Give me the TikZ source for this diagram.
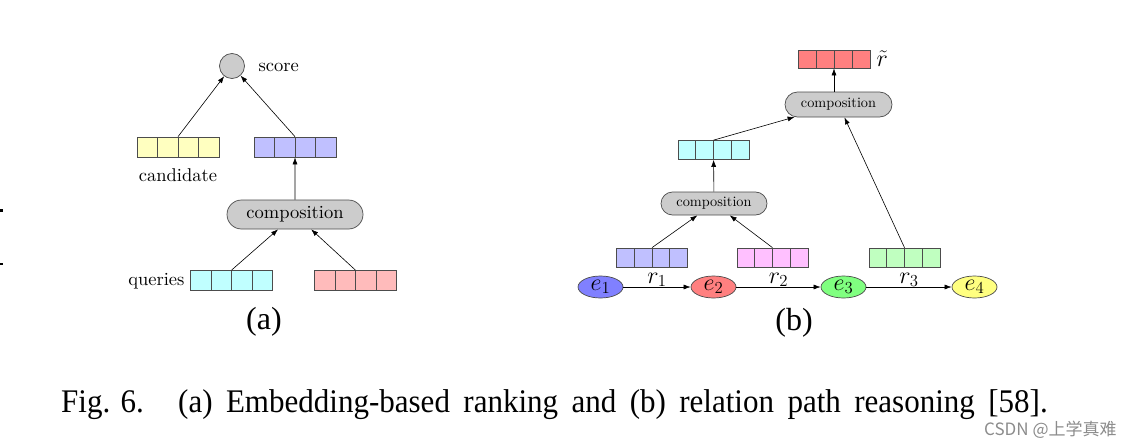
\documentclass[tikz,border=0pt]{standalone}
\usepackage{fix-cm}
\usepackage{amsmath}
\usepackage{fontspec}
\usepackage{tikz}
\usetikzlibrary{arrows.meta, calc, shapes.geometric, shapes.misc}
\setmainfont{lmroman10-regular}[Extension=.otf]
\newfontfamily\capfont{Liberation Serif}
\newfontfamily\cjkfont{Noto Sans CJK SC}
\definecolor{vyellow}{RGB}{255,255,192}
\definecolor{vblue}{RGB}{192,192,255}
\definecolor{vcyan}{RGB}{192,255,255}
\definecolor{vpink}{RGB}{255,187,187}
\definecolor{vred}{RGB}{255,128,128}
\definecolor{vmagenta}{RGB}{255,192,255}
\definecolor{vgreen}{RGB}{192,255,192}
\definecolor{eblue}{RGB}{128,128,255}
\definecolor{ered}{RGB}{255,128,128}
\definecolor{egreen}{RGB}{128,255,128}
\definecolor{eyellow}{RGB}{255,255,128}
\definecolor{compgray}{RGB}{204,204,204}

\tikzset{
  vecbox/.style={draw=black!70, fill=#1, line width=0.7pt, minimum width=82, minimum height=20, inner sep=0pt,
    path picture={\foreach \k in {0.25,0.5,0.75}
      \draw[black!70, line width=0.7pt] ($(path picture bounding box.south west)!\k!(path picture bounding box.south east)$)
        -- ($(path picture bounding box.north west)!\k!(path picture bounding box.north east)$);}},
  smallvec/.style={vecbox=#1, minimum width=71, minimum height=19},
  compbox/.style={rounded rectangle, draw=black!70, fill=compgray, line width=0.7pt, inner sep=0pt},
  entity/.style={ellipse, draw=black!70, fill=#1, line width=0.7pt, minimum width=45, minimum height=22, inner sep=0pt,
    font=\fontsize{24}{25}\selectfont},
  arr/.style={-{Latex[length=7pt,width=5pt]}, line width=0.6pt},
  labela/.style={font=\fontsize{18.5}{20}\selectfont},
  rlabel/.style={midway, anchor=base, yshift=4pt, font=\fontsize{24}{25}\selectfont},
  sublabel/.style={font=\capfont\fontsize{32}{34}\selectfont}
}

\begin{document}
\begin{tikzpicture}[x=1pt, y=1pt]
\useasboundingbox (0,0) rectangle (1136,-447);
\fill[white] (0,0) rectangle (1136,-447);

% page edge marks
\fill (0,-209) rectangle (2.5,-212);
\fill (0,-263) rectangle (2.5,-265);

% (a) embedding-based ranking
\node[circle, draw=black!70, fill=compgray, line width=0.7pt, minimum size=25] (score) at (232,-66) {};
\node[labela, anchor=west] (scoretxt) at (255,-67) {score};
\node[vecbox=vyellow] (cand) at (178,-147) {};
\node[labela] (candtxt) at (178,-175) {candidate};
\node[vecbox=vblue] (qemb) at (295,-147) {};
\node[compbox, labela, minimum width=136, minimum height=29] (compa) at (295,-214.5) {composition};
\node[vecbox=vcyan] (query) at (231.5,-280.5) {};
\node[labela, anchor=east] (querytxt) at (188,-281) {queries};
\node[vecbox=vpink] (rel) at (355.5,-280.5) {};

\draw[arr] (cand.north) -- (score);
\draw[arr] (qemb.north) -- (score);
\draw[arr] (compa) -- (qemb);
\draw[arr] (query.north) -- (compa);
\draw[arr] (rel.north) -- (compa);

\node[sublabel] (suba) at (264,-322) {(a)};

% (b) relation path reasoning
\node[smallvec=vred, minimum width=72, minimum height=18] (rpath) at (834,-59) {};
\node[font=\fontsize{24}{25}\selectfont, anchor=west] (rtilde) at (873,-59) {$\tilde{r}$};
\node[compbox, font=\fontsize{14.3}{16}\selectfont, minimum width=107, minimum height=25] (comptop) at (838.5,-104.5) {composition};
\node[smallvec=vcyan] (r12) at (713.5,-150) {};
\node[compbox, font=\fontsize{14.3}{16}\selectfont, minimum width=106, minimum height=23] (compbot) at (714,-203.5) {composition};
\node[smallvec=vblue] (r1) at (652,-257.5) {};
\node[smallvec=vmagenta] (r2) at (772.5,-257.5) {};
\node[smallvec=vgreen] (r3) at (904.5,-257.5) {};

\node[entity=eblue] (e1) at (600.5,-287) {$e_1$};
\node[entity=ered] (e2) at (713.5,-287) {$e_2$};
\node[entity=egreen] (e3) at (843.5,-287) {$e_3$};
\node[entity=eyellow] (e4) at (974.5,-287) {$e_4$};

\draw[arr] (e1) -- node[rlabel] (lr1) {$r_1$} (e2);
\draw[arr] (e2) -- node[rlabel] (lr2) {$r_2$} (e3);
\draw[arr] (e3) -- node[rlabel] (lr3) {$r_3$} (e4);

\draw[arr] (r1.north) -- (compbot);
\draw[arr] (r2.north) -- (compbot);
\draw[arr] (compbot) -- (r12);
\draw[arr] (r12.north) -- (comptop);
\draw[arr] (r3.north) -- (comptop);
\draw[arr] (rpath.south |- comptop.north) -- (rpath.south);

\node[sublabel] (subb) at (794,-323) {(b)};

% caption
\node[anchor=base west, inner sep=0pt, font=\capfont\fontsize{33}{36}\selectfont] (cap) at (61,-412)
  {\scalebox{0.94}[1]{Fig. 6.}};
\node[anchor=base west, inner sep=0pt, font=\capfont\fontsize{33}{36}\selectfont] (captext) at (178,-412)
  {\scalebox{0.94}[1]{\makebox[925pt][s]{(a) Embedding-based ranking and (b) relation path reasoning [58].}}};
\node[anchor=base west, inner sep=0pt, text=black!45, font=\cjkfont\fontsize{17}{18}\selectfont] (mark) at (984,-435) {CSDN @上学真难};
\end{tikzpicture}
\end{document}
